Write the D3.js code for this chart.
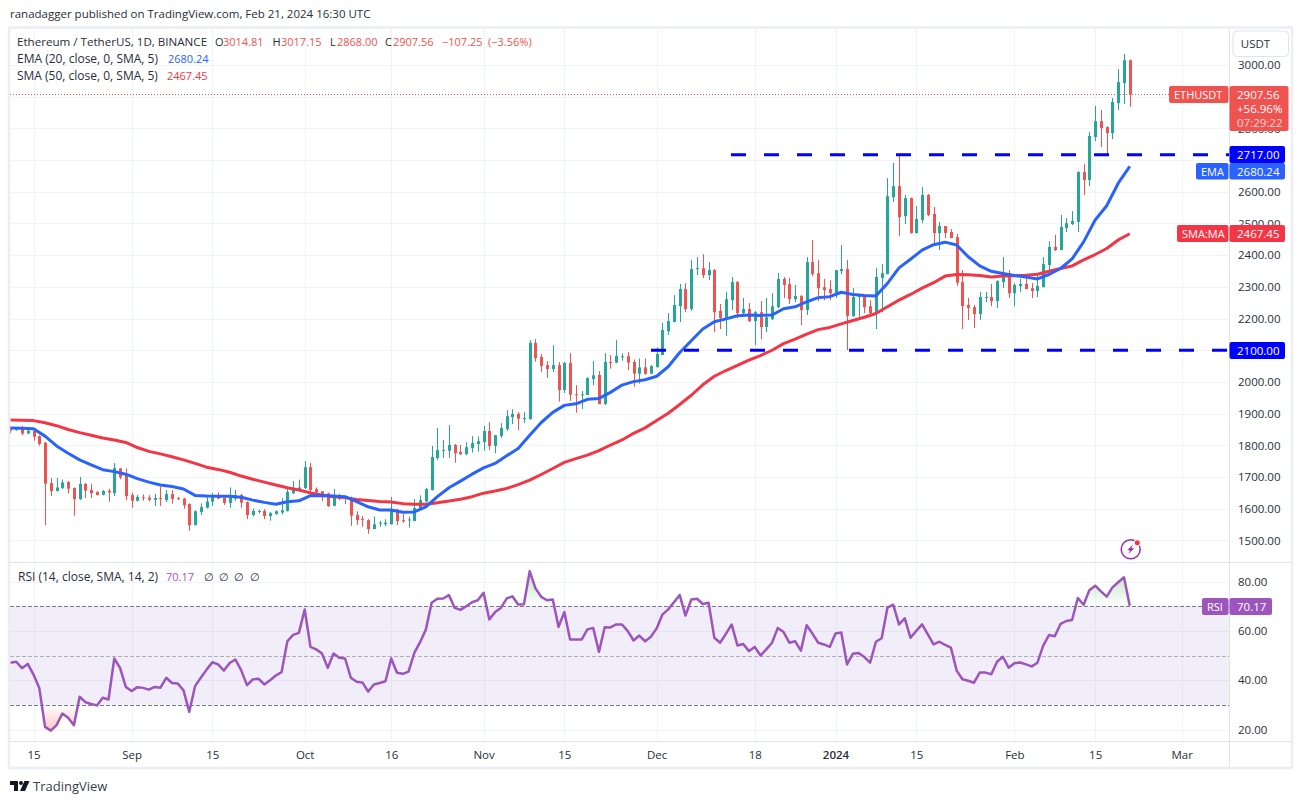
<!DOCTYPE html>
<html>
<head>
<meta charset="utf-8">
<script src="https://cdn.jsdelivr.net/npm/d3@7"></script>
<style>
  html, body { margin: 0; padding: 0; background: #fff; }
  svg { display: block; }
  text { font-family: "Open Sans", sans-serif; }
</style>
</head>
<body>
<div id="chart"></div>
<script>
// daily candles from Aug 11 2023, one row per month
var firstDay = '2023-08-11';

var opens = [
  1853,1848,1853,1837,1846,1829,1808,1681,1656,1665,1684,1665,1630,1678,1659,1653,1644,1657,1649,1727,1705,
  1643,1625,1636,1635,1628,1634,1627,1646,1634,1632,1615,1548,1590,1603,1622,1641,1634,1618,1632,1643,1621,1580,1590,1593,1577,1583,1588,1593,1649,1661,
  1665,1731,1662,1655,1648,1609,1643,1638,1632,1580,1568,1564,1536,1553,1551,1551,1597,1564,1564,1561,1596,1623,1659,1760,1783,1783,1801,1779,1772,1791,1804,
  1810,1845,1798,1829,1851,1889,1899,1884,1883,2123,2079,2053,2041,2053,1974,2060,1961,1959,1959,2009,2022,1931,2063,2061,2079,2081,2063,2026,2046,2026,
  2047,2085,2160,2189,2239,2293,2230,2356,2359,2337,2353,2224,2202,2258,2315,2217,2230,2192,2220,2173,2198,2236,2325,2309,2261,2271,2227,2378,2343,2299,2293,
  2277,2350,2356,2208,2268,2271,2239,2217,2328,2340,2583,2618,2523,2580,2470,2511,2590,2530,2470,2492,2473,2457,2315,2243,2236,2214,2265,2268,2255,2315,2343,
  2280,2302,2309,2296,2287,2299,2369,2426,2416,2486,2498,2505,2662,2637,2773,2823,2804,2785,2880,2943,3014.81
];
var closes = [
  1846,1851,1837,1846,1827,1804,1679,1656,1667,1683,1663,1630,1678,1657,1649,1643,1656,1651,1728,1699,1640,
  1625,1637,1633,1628,1634,1632,1646,1631,1631,1611,1548,1592,1605,1623,1641,1632,1618,1636,1642,1619,1580,1593,1593,1577,1586,1592,1595,1653,1664,1667,
  1731,1659,1652,1641,1608,1641,1632,1634,1578,1564,1566,1536,1551,1556,1556,1599,1561,1560,1566,1602,1627,1662,1763,1785,1785,1801,1775,1772,1794,1807,1813,
  1845,1798,1832,1854,1892,1899,1884,1886,2123,2075,2050,2041,2053,1974,2060,1960,1959,1961,2012,2021,1930,2063,2061,2082,2081,2061,2026,2046,2026,2050,
  2088,2164,2192,2243,2293,2230,2356,2359,2337,2353,2220,2202,2261,2315,2217,2230,2192,2220,2173,2204,2239,2325,2306,2261,2271,2227,2378,2340,2296,2290,2280,
  2353,2356,2208,2268,2271,2236,2217,2331,2343,2586,2618,2520,2580,2470,2514,2590,2527,2470,2492,2470,2454,2313,2239,2233,2214,2268,2268,2255,2318,2344,2280,
  2306,2309,2293,2287,2303,2372,2426,2416,2489,2501,2508,2662,2637,2776,2823,2801,2785,2883,2946,3015,2907.56
];
var highs = [
  1859,1855,1861,1852,1850,1832,1811,1697,1697,1692,1687,1667,1700,1681,1679,1655,1659,1663,1744,1729,1727,
  1651,1643,1645,1643,1647,1670,1659,1659,1637,1634,1617,1595,1617,1643,1650,1652,1636,1667,1659,1647,1623,1601,1597,1599,1590,1595,1633,1667,1687,1692,
  1750,1744,1667,1655,1651,1662,1647,1640,1638,1592,1577,1567,1575,1562,1567,1637,1600,1583,1575,1630,1642,1666,1798,1855,1817,1864,1804,1801,1810,1829,1828,
  1861,1873,1832,1870,1911,1914,1905,1905,2132,2135,2088,2066,2116,2063,2063,2091,1990,1971,2015,2066,2034,2091,2085,2132,2090,2094,2071,2074,2074,2053,
  2109,2186,2217,2274,2309,2312,2385,2394,2403,2378,2356,2246,2284,2331,2318,2265,2249,2224,2255,2265,2280,2344,2331,2328,2306,2274,2394,2448,2385,2325,2321,
  2353,2432,2385,2296,2277,2274,2258,2359,2372,2643,2691,2719,2590,2582,2555,2615,2593,2552,2505,2492,2482,2467,2353,2265,2243,2284,2284,2309,2321,2394,2353,
  2312,2325,2331,2312,2340,2394,2444,2464,2527,2517,2539,2665,2687,2789,2871,2858,2807,2896,2987,3035,3017.15
];
var lows = [
  1838,1846,1832,1836,1815,1799,1548,1640,1654,1662,1648,1578,1628,1634,1634,1642,1642,1622,1640,1693,1627,
  1603,1623,1625,1623,1609,1609,1621,1616,1627,1600,1530,1548,1580,1601,1609,1631,1612,1603,1625,1603,1567,1576,1585,1567,1562,1581,1582,1591,1646,1658,
  1662,1637,1646,1624,1606,1608,1627,1615,1546,1549,1543,1521,1535,1543,1545,1550,1548,1556,1540,1561,1596,1620,1657,1753,1760,1760,1745,1769,1769,1777,1780,
  1783,1785,1775,1824,1845,1867,1848,1871,1881,2064,2032,2013,2031,1938,1965,1940,1903,1915,1959,1990,1930,1927,2042,2059,2067,2037,1985,1995,2022,2024,
  2045,2085,2148,2189,2189,2220,2224,2337,2328,2321,2157,2167,2145,2227,2201,2213,2189,2116,2135,2157,2195,2233,2265,2246,2252,2179,2211,2334,2255,2258,2258,
  2265,2340,2100,2205,2205,2217,2214,2167,2220,2340,2568,2460,2498,2468,2468,2501,2523,2429,2416,2454,2454,2303,2167,2195,2170,2195,2252,2239,2233,2296,2265,
  2239,2284,2293,2265,2268,2299,2353,2413,2416,2473,2495,2473,2590,2618,2760,2741,2719,2766,2858,2877,2868
];

// moving averages, read every second day
var maStep = 2;
var emaValues = [
  1855,1854,1852,1829,1798,1775,1754,1738,1723,1717,1709,1695,1684,1675,1670,1662,1642,1640,1639,1639,1636,1627,1620,1614,1622,1625,1641,
  1641,1640,1638,1622,1606,1596,1596,1589,1590,1606,1638,1666,1687,1709,1729,1743,1767,1790,1832,1872,1904,1926,1931,1945,1948,1967,
  1990,2001,2007,2018,2048,2093,2130,2167,2190,2199,2209,2211,2210,2211,2231,2237,2253,2266,2269,2283,2276,2273,2271,2311,2360,2387,2416,2433,
  2441,2432,2395,2366,2349,2342,2336,2331,2325,2339,2358,2388,2442,2511,2556,2627,2680.24
];
var smaValues = [
  1880,1879,1878,1871,1862,1850,1840,1832,1823,1817,1809,1793,1781,1773,1764,1754,1743,1731,1724,1715,1703,1693,1684,1675,1666,1659,1650,
  1643,1638,1635,1629,1626,1623,1621,1616,1614,1614,1619,1624,1630,1638,1649,1656,1664,1676,1690,1708,1727,1746,1758,1769,1783,1801,
  1817,1838,1855,1878,1901,1929,1958,1991,2018,2036,2052,2069,2083,2100,2121,2135,2151,2165,2172,2183,2194,2204,2216,2237,2258,2276,2296,2313,
  2334,2339,2338,2336,2331,2334,2335,2337,2340,2349,2358,2366,2385,2402,2421,2448,2467.45
];

var rsiValues = [
  47.1,47.5,44.9,46.6,42.3,36.9,21.1,19.6,21.8,26.5,24.8,21.8,33.3,31.1,30.4,29.8,32.9,32.2,48.8,45,37.3,
  35.6,37.2,36.9,36.2,37.3,37,41,38.9,38.7,35.9,27.2,37.6,41,44.3,47.3,46.4,43.9,47,48.4,44,38,40.3,40.6,38.3,40,41.9,43.3,55.8,58.4,59.2,
  68.65,53.5,52.5,50.8,45,50.8,49.1,48.8,41,39.4,39.1,35.4,38.3,38.9,39.6,48.8,43,42.6,43.5,51.1,55.4,60.5,71.4,73,73.1,74.5,69.3,68.5,70,71.6,72.4,
  75.4,64.6,67.6,69.3,73.1,74,70.7,70.8,84.2,77.2,73.8,72.4,72.7,61.6,67.6,56.5,56.5,56.5,60.6,61.2,51.5,61.5,61.4,62.6,62.6,59.9,56.1,58.1,55.8,57.6,
  61,66.6,68.7,71.6,74.5,66.2,72.7,73,70.9,71.4,57.2,55.2,58.8,62.6,54.1,54.7,51.8,53.5,50,52.5,55.2,61.2,59.5,55.2,55.8,52,62.3,58.9,55.2,54.5,53.5,
  58.9,59.3,46.4,50.7,51,49.4,47.1,55.6,57,69.4,70.6,62.6,65.1,57.2,60,62.6,58.6,54.5,55.6,54.3,53.2,43.9,40.4,39.8,39,43.1,43.1,42.4,47.5,49.5,45.1,
  46.9,47.2,46.4,45.6,47.1,54,58.3,57.8,62.8,64,64.4,73.3,70.6,76.5,78.3,76,73.9,77.6,79.7,81.7,70.17
];

var priceTicks = d3.range(1500, 3001, 100);
// these three sit fully behind the price tags
var coveredPriceLabels = [2900, 2700, 2100];
var rsiTicks = [20, 40, 60, 80];
var rsiLevels = [70, 50, 30];
var supportLevel = 2100;
var resistanceLevel = 2717;
var timeTickDates = ['2023-08-15','2023-09-01','2023-09-15','2023-10-01','2023-10-16','2023-11-01','2023-11-15',
  '2023-12-01','2023-12-18','2024-01-01','2024-01-15','2024-02-01','2024-02-15','2024-03-01'];
var timeTickLabels = ['15','Sep','15','Oct','16','Nov','15','Dec','18','2024','15','Feb','15','Mar'];

var UP = '#26a69a', DOWN = '#ef5350', EMA = '#2962ff', SMA = '#f23645', RSI = '#9c55bd', LEVEL = '#0000ff';
var TEXT = '#2a2e39', GRID = '#f0f3fa', FRAME = '#e0e3eb';
var plotLeft = 10, plotRight = 1229, axisRight = 1292;

var day = 864e5;
var dayZero = Date.parse(firstDay);
function dateOf(i) { return new Date(dayZero + i * day); }

var x = d3.scaleUtc()
  .domain([new Date('2023-08-15'), new Date('2024-03-01')])
  .range([33.5, 1181.7]);
var y = d3.scaleLinear().domain([1500, 3000]).range([540.4, 65]);
var yRsi = d3.scaleLinear().domain([20, 80]).range([729.6, 581.5]);

var svg = d3.select('#chart').append('svg').attr('width', 1303).attr('height', 804);
var defs = svg.append('defs');

defs.append('clipPath').attr('id', 'price-clip').append('rect')
  .attr('x', plotLeft).attr('y', 29).attr('width', plotRight - plotLeft).attr('height', 533);
defs.append('clipPath').attr('id', 'rsi-clip').append('rect')
  .attr('x', plotLeft).attr('y', 563).attr('width', plotRight - plotLeft).attr('height', 178);
defs.append('clipPath').attr('id', 'over-clip').append('rect')
  .attr('x', plotLeft).attr('y', 563).attr('width', plotRight - plotLeft).attr('height', yRsi(70) - 563);
defs.append('clipPath').attr('id', 'under-clip').append('rect')
  .attr('x', plotLeft).attr('y', yRsi(30)).attr('width', plotRight - plotLeft).attr('height', 741 - yRsi(30));

var overGrad = defs.append('linearGradient').attr('id', 'over-grad')
  .attr('gradientUnits', 'userSpaceOnUse').attr('x1', 0).attr('x2', 0).attr('y1', yRsi(84)).attr('y2', yRsi(70));
overGrad.append('stop').attr('offset', 0).attr('stop-color', '#4caf50').attr('stop-opacity', 0.35);
overGrad.append('stop').attr('offset', 1).attr('stop-color', '#4caf50').attr('stop-opacity', 0);
var underGrad = defs.append('linearGradient').attr('id', 'under-grad')
  .attr('gradientUnits', 'userSpaceOnUse').attr('x1', 0).attr('x2', 0).attr('y1', yRsi(30)).attr('y2', yRsi(19));
underGrad.append('stop').attr('offset', 0).attr('stop-color', '#ff5252').attr('stop-opacity', 0);
underGrad.append('stop').attr('offset', 1).attr('stop-color', '#ff5252').attr('stop-opacity', 0.35);

// grid first, everything else sits on top
var grid = svg.append('g').attr('stroke', GRID).attr('stroke-width', 1);
grid.selectAll('.v').data(timeTickDates).enter().append('line')
  .attr('x1', function (d) { return snap(x(new Date(d))); })
  .attr('x2', function (d) { return snap(x(new Date(d))); })
  .attr('y1', 29).attr('y2', 741);
grid.selectAll('.h').data(priceTicks).enter().append('line')
  .attr('x1', plotLeft).attr('x2', plotRight)
  .attr('y1', function (d) { return snap(y(d)); })
  .attr('y2', function (d) { return snap(y(d)); });
grid.selectAll('.r').data(rsiTicks).enter().append('line')
  .attr('x1', plotLeft).attr('x2', plotRight)
  .attr('y1', function (d) { return snap(yRsi(d)); })
  .attr('y2', function (d) { return snap(yRsi(d)); });

function snap(v) { return Math.round(v) + 0.5; }

// last price dotted line
svg.append('line')
  .attr('x1', plotLeft).attr('x2', 1169)
  .attr('y1', snap(y(2907.56))).attr('y2', snap(y(2907.56)))
  .attr('stroke', DOWN).attr('stroke-dasharray', '1 2');

// candles
var pricePane = svg.append('g').attr('clip-path', 'url(#price-clip)');
var candles = pricePane.selectAll('.candle').data(opens).enter().append('g').attr('class', 'candle');
function candleColor(d, i) { return closes[i] >= d ? UP : DOWN; }
function candleX(i) { return Math.round(x(dateOf(i))); }

candles.append('rect')
  .attr('x', function (d, i) { return candleX(i); })
  .attr('width', 1)
  .attr('y', function (d, i) { return y(highs[i]); })
  .attr('height', function (d, i) { return y(lows[i]) - y(highs[i]); })
  .attr('fill', candleColor);
candles.append('rect')
  .attr('x', function (d, i) { return candleX(i) - 1; })
  .attr('width', 3)
  .attr('y', function (d, i) { return y(Math.max(d, closes[i])); })
  .attr('height', function (d, i) { return Math.max(1, Math.abs(y(d) - y(closes[i]))); })
  .attr('fill', candleColor);

var maLine = d3.line()
  .x(function (d, i) { return x(dateOf(i * maStep)); })
  .y(function (d) { return y(d); });

pricePane.append('path').datum(smaValues).attr('d', maLine)
  .attr('fill', 'none').attr('stroke', SMA).attr('stroke-width', 3).attr('stroke-linejoin', 'round');
pricePane.append('path').datum(emaValues).attr('d', maLine)
  .attr('fill', 'none').attr('stroke', EMA).attr('stroke-width', 3).attr('stroke-linejoin', 'round');

// the two hand drawn levels
[[resistanceLevel, 731], [supportLevel, 651]].forEach(function (level) {
  svg.append('line')
    .attr('x1', level[1]).attr('x2', plotRight)
    .attr('y1', y(level[0])).attr('y2', y(level[0]))
    .attr('stroke', LEVEL).attr('stroke-width', 3).attr('stroke-dasharray', '15 18');
});

// RSI pane
svg.append('rect')
  .attr('x', plotLeft).attr('width', plotRight - plotLeft)
  .attr('y', yRsi(70)).attr('height', yRsi(30) - yRsi(70))
  .attr('fill', '#7e57c2').attr('fill-opacity', 0.1);

var rsiX = function (d, i) { return x(dateOf(i)); };
svg.append('path').datum(rsiValues)
  .attr('clip-path', 'url(#over-clip)')
  .attr('fill', 'url(#over-grad)')
  .attr('d', d3.area().x(rsiX).y0(yRsi(70)).y1(function (d) { return yRsi(d); }));
svg.append('path').datum(rsiValues)
  .attr('clip-path', 'url(#under-clip)')
  .attr('fill', 'url(#under-grad)')
  .attr('d', d3.area().x(rsiX).y0(yRsi(30)).y1(function (d) { return yRsi(d); }));

svg.selectAll('.rsi-level').data(rsiLevels).enter().append('line')
  .attr('class', 'rsi-level')
  .attr('x1', plotLeft).attr('x2', plotRight)
  .attr('y1', function (d) { return snap(yRsi(d)); })
  .attr('y2', function (d) { return snap(yRsi(d)); })
  .attr('stroke', '#787b86')
  .attr('stroke-opacity', function (d) { return d === 50 ? 0.55 : 1; })
  .attr('stroke-dasharray', '4 2');

svg.append('g').attr('clip-path', 'url(#rsi-clip)').append('path').datum(rsiValues)
  .attr('fill', 'none').attr('stroke', RSI).attr('stroke-width', 2.5).attr('stroke-linejoin', 'round')
  .attr('d', d3.line().x(rsiX).y(function (d) { return yRsi(d); }));

// frame
var frame = svg.append('g').attr('fill', 'none').attr('stroke', FRAME);
frame.append('rect').attr('x', 9).attr('y', 27.5).attr('width', axisRight - 9).attr('height', 740.5)
  .attr('stroke-width', 2.5).attr('stroke', '#eceef4');
frame.append('line').attr('x1', plotRight + 0.5).attr('x2', plotRight + 0.5).attr('y1', 29).attr('y2', 767).attr('stroke-width', 1);
frame.append('line').attr('x1', 10).attr('x2', axisRight).attr('y1', 562.5).attr('y2', 562.5).attr('stroke-width', 1);
frame.append('line').attr('x1', 10).attr('x2', axisRight).attr('y1', 741.5).attr('y2', 741.5).attr('stroke-width', 1);

// axes
var axisFont = 11.5;
function styleAxis(g) {
  g.select('.domain').remove();
  g.selectAll('.tick line').remove();
  g.selectAll('text').attr('fill', TEXT).style('font-size', axisFont + 'px').style('font-family', '"Open Sans", sans-serif');
}

svg.append('g')
  .attr('transform', 'translate(' + plotRight + ',0)')
  .call(d3.axisRight(y)
    .tickValues(priceTicks.filter(function (d) { return coveredPriceLabels.indexOf(d) < 0; }))
    .tickFormat(d3.format('.2f'))
    .tickPadding(3))
  .call(styleAxis);
svg.append('g')
  .attr('transform', 'translate(' + plotRight + ',0)')
  .call(d3.axisRight(yRsi).tickValues(rsiTicks).tickFormat(d3.format('.2f')).tickPadding(3))
  .call(styleAxis);
svg.append('g')
  .attr('transform', 'translate(0,741)')
  .call(d3.axisBottom(x)
    .tickValues(timeTickDates.map(function (d) { return new Date(d); }))
    .tickFormat(function (d, i) { return timeTickLabels[i]; })
    .tickPadding(4))
  .call(styleAxis)
  .selectAll('text')
  .style('font-weight', function (d, i) { return timeTickLabels[i] === '2024' ? 600 : 400; });

// currency button
svg.append('rect').attr('x', 1233).attr('y', 31).attr('width', 55.5).attr('height', 25.5).attr('rx', 4)
  .attr('fill', '#fff').attr('stroke', FRAME).attr('stroke-width', 1);
label(1255.5, 48, 'USDT', TEXT, 11.5, 'middle');

// price tags on the right axis
function tag(x0, x1, y0, y1, color, rx) {
  svg.append('rect').attr('x', x0).attr('y', y0).attr('width', x1 - x0).attr('height', y1 - y0)
    .attr('rx', rx === undefined ? 2 : rx).attr('fill', color);
}
function label(px, py, str, color, size, anchor) {
  return svg.append('text').attr('x', px).attr('y', py)
    .attr('fill', color).attr('font-size', size || 11.5).attr('text-anchor', anchor || 'start').text(str);
}

tag(1169, 1228.5, 86, 103, DOWN);
label(1174, 99, 'ETHUSDT', '#fff', 11);
tag(1229.5, 1288.5, 86, 131, DOWN);
label(1237, 99, '2907.56', '#fff', 11.5);
label(1237, 113, '+56.96%', '#fff', 11.5);
label(1237, 127, '07:29:22', '#fff', 11.5).attr('fill-opacity', 0.75);

tag(1229.5, 1285, 146, 163, LEVEL);
label(1237, 159, '2717.00', '#fff', 11.5);
tag(1196, 1228.5, 163, 179.5, EMA);
label(1201, 176, 'EMA', '#fff', 11);
tag(1229.5, 1285, 163, 179.5, EMA);
label(1237, 176, '2680.24', '#fff', 11.5);

tag(1177, 1228.5, 225, 242, SMA);
label(1182, 238, 'SMA:MA', '#fff', 11);
tag(1229.5, 1285, 225, 242, SMA);
label(1237, 238, '2467.45', '#fff', 11.5);

tag(1229.5, 1285, 342, 359, LEVEL);
label(1237, 355, '2100.00', '#fff', 11.5);

tag(1202, 1228.5, 598, 615, RSI);
label(1207, 611, 'RSI', '#fff', 11);
tag(1229.5, 1272, 598, 615, RSI);
label(1237, 611, '70.17', '#fff', 11.5);

// header and legends
label(10, 18, 'ranadagger published on TradingView.com, Feb 21, 2024 16:30 UTC', TEXT, 11.5);

label(17, 46, 'Ethereum / TetherUS, 1D, BINANCE', TEXT, 11.6);
[['O', 215, TEXT], ['3014.81', 223, DOWN], ['H', 272.5, TEXT], ['3017.15', 281, DOWN], ['L', 330, TEXT], ['2868.00', 337, DOWN],
 ['C', 385, TEXT], ['2907.56', 393, DOWN], ['\u2212107.25', 442, DOWN], ['(\u22123.56%)', 488, DOWN]].forEach(function (t) {
  label(t[1], 46, t[0], t[2], 11);
});
label(17, 63, 'EMA (20, close, 0, SMA, 5)', TEXT, 12);
label(168, 63, '2680.24', EMA, 11);
label(17, 80, 'SMA (50, close, 0, SMA, 5)', TEXT, 12);
label(167, 80, '2467.45', SMA, 11);

label(18, 581, 'RSI (14, close, SMA, 14, 2)', TEXT, 12);
label(166, 581, '70.17', RSI, 11);
[207, 222, 237, 253].forEach(function (px) { label(px - 3, 581, '\u2205', TEXT, 11); });

// lightning marker
var marker = svg.append('g').attr('transform', 'translate(1130.7,549.3)');
marker.append('circle').attr('r', 9.5).attr('fill', '#fff').attr('stroke', '#9c27b0').attr('stroke-width', 1.5);
marker.append('path').attr('d', 'M2.5,-5 L-3.5,1 L-0.5,1 L-2.5,5 L3.5,-1 L0.5,-1 Z').attr('fill', '#9c27b0');
marker.append('circle').attr('cx', 6.6).attr('cy', -6.6).attr('r', 3.5).attr('fill', '#fff');
marker.append('circle').attr('cx', 6.6).attr('cy', -6.6).attr('r', 2.5).attr('fill', '#f7323f');

// TradingView logo
var logo = svg.append('g').attr('transform', 'translate(10,781)').attr('fill', '#131722');
logo.append('path').attr('d', 'M0,0 H8 V10 H4 V4 H0 Z');
logo.append('circle').attr('cx', 11).attr('cy', 2).attr('r', 2);
logo.append('path').attr('d', 'M14.5,0 H19.5 L15,10 H10 Z');
label(33, 791, 'TradingView', '#3a3e49', 13);
</script>
</body>
</html>
